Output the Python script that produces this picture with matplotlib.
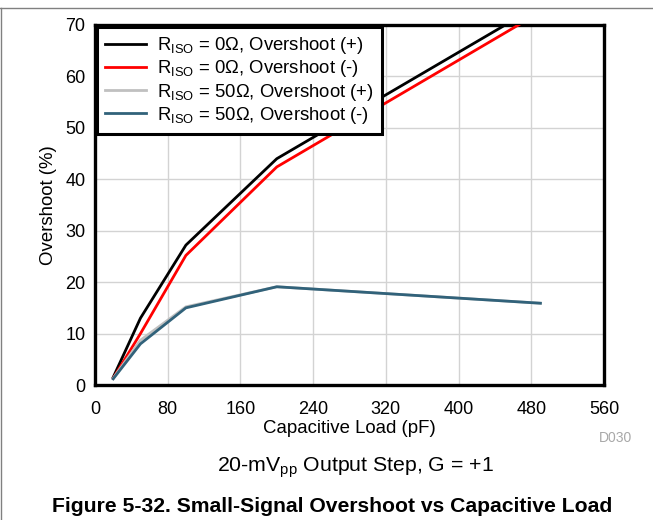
import matplotlib
matplotlib.use("Agg")
import matplotlib.pyplot as plt
from matplotlib.lines import Line2D

plt.rcParams['font.family'] = ['Liberation Sans', 'DejaVu Sans']
plt.rcParams['mathtext.fontset'] = 'custom'
plt.rcParams['mathtext.rm'] = 'Liberation Sans'
plt.rcParams['mathtext.it'] = 'Liberation Sans'

cap_pf = [20, 50, 100, 200, 490]
r0_pos = [1.5, 13.0, 27.2, 44.0, 74.0]
r0_neg = [1.3, 10.0, 25.2, 42.4, 72.5]
r50_pos = [1.3, 8.7, 15.2, 19.1, 15.9]
r50_neg = [1.2, 8.0, 15.0, 19.1, 15.9]

labels = [r'R$_{\rm ISO}$ = 0$\Omega$, Overshoot (+)',
          r'R$_{\rm ISO}$ = 0$\Omega$, Overshoot (-)',
          r'R$_{\rm ISO}$ = 50$\Omega$, Overshoot (+)',
          r'R$_{\rm ISO}$ = 50$\Omega$, Overshoot (-)']
xticks = [0, 80, 160, 240, 320, 400, 480, 560]
yticks = [0, 10, 20, 30, 40, 50, 60, 70]

fig = plt.figure(figsize=(6.53, 5.2), dpi=100)
ax = fig.add_axes([0.1455, 0.2596, 0.7795, 0.6924])

ax.plot(cap_pf, r0_pos, color='black', lw=2, label=labels[0], zorder=5)
ax.plot(cap_pf, r0_neg, color='#ff0000', lw=2, label=labels[1], zorder=5)
ax.plot(cap_pf, r50_pos, color='#c0c0c0', lw=2, label=labels[2], zorder=5)
ax.plot(cap_pf, r50_neg, color='#31627a', lw=2, label=labels[3], zorder=6)

ax.set_xlim(0, 560)
ax.set_ylim(0, 70)
ax.set_xticks(xticks)
ax.set_yticks(yticks)
ax.tick_params(length=0, labelsize=13)
ax.tick_params(axis='x', pad=11.5)
ax.tick_params(axis='y', pad=7)
ax.grid(True, color='#d3d3d3', lw=1)
ax.set_axisbelow(True)
for s in ax.spines.values():
    s.set_linewidth(2.4)
    s.set_color('black')
ax.set_xlabel('Capacitive Load (pF)', fontsize=13.4, labelpad=1.5)
ax.set_ylabel('Overshoot (%)', fontsize=13.4, labelpad=6)

leg = ax.legend(loc='upper left', fontsize=13.3, frameon=True, fancybox=False,
                framealpha=1, borderaxespad=0.1, handlelength=2.2, labelspacing=0.12,
                borderpad=0.45, handletextpad=0.6)
leg.get_frame().set_edgecolor('black')
leg.get_frame().set_linewidth(2.2)
leg.set_zorder(10)

fig.text(616/653, 1 - 438/520, 'D030', fontsize=10, color='#a8a8a8', ha='center', va='center')
fig.text(355/653, 1 - 468/520, r'20-mV$_{\rm pp}$ Output Step, G = +1', fontsize=15.3,
         ha='center', va='center')
fig.text(332/653, 1 - 507/520, 'Figure 5-32. Small-Signal Overshoot vs Capacitive Load',
         fontsize=15.2, fontweight='bold', ha='center', va='center')

fig.add_artist(Line2D([0, 1], [1 - 7.5/520, 1 - 7.5/520], color='#808080', lw=1,
                      transform=fig.transFigure))
fig.add_artist(Line2D([0.5/653, 0.5/653], [0, 1 - 7.5/520], color='#808080', lw=1,
                      transform=fig.transFigure))

fig.savefig('out.png', dpi=100)
